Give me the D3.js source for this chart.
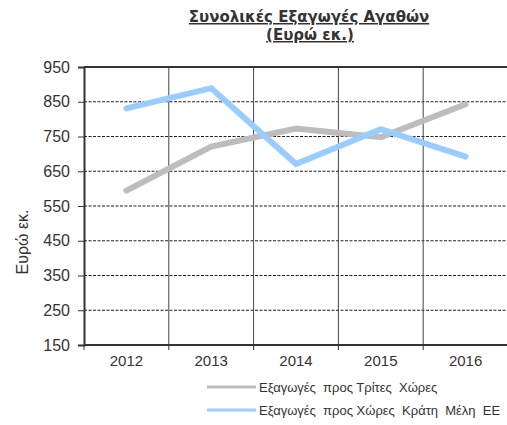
<!DOCTYPE html>
<html><head><meta charset="utf-8">
<script src="https://cdn.jsdelivr.net/npm/d3@7"></script>
<style>body{margin:0;background:#fff;} svg{display:block;}</style>
</head><body>
<script>
const years = ["2012","2013","2014","2015","2016"];
const thirdCountries = [594, 721, 773, 748, 843];
const euMembers = [831, 889, 671, 771, 692];
const yTicks = [150,250,350,450,550,650,750,850,950];
const seriesNames = ["Εξαγωγές  προς Τρίτες  Χώρες", "Εξαγωγές  προς Χώρες  Κράτη  Μέλη  ΕΕ"];
const colors = ["#BDBDBD", "#99CCFF"];

const W = 507, H = 425;
const FONT = "Liberation Sans, Arial, sans-serif";
const svg = d3.select("body").append("svg").attr("width", W).attr("height", H);
const L = 84, R = 508, T = 67, B = 345;
const x = d3.scaleBand().domain(years).range([L, R]);
const y = d3.scaleLinear().domain([150, 950]).range([B, T]);

// horizontal dashed grid
svg.append("g").selectAll("line").data(yTicks.filter(v => v > 150 && v < 950)).join("line")
  .attr("x1", L).attr("x2", R).attr("y1", d => y(d)).attr("y2", d => y(d))
  .attr("stroke", "#222").attr("stroke-width", 1).attr("stroke-dasharray", "3,1.5");
// vertical solid grid at category boundaries
svg.append("g").selectAll("line").data(years.slice(1)).join("line")
  .attr("x1", d => x(d)).attr("x2", d => x(d)).attr("y1", T).attr("y2", B)
  .attr("stroke", "#444").attr("stroke-width", 1);
// top border
svg.append("line").attr("x1", L).attr("x2", R).attr("y1", T).attr("y2", T)
  .attr("stroke", "#333").attr("stroke-width", 2);

// y axis
const yAxis = d3.axisLeft(y).tickValues(yTicks).tickSize(6).tickPadding(8);
const gy = svg.append("g").attr("transform", `translate(${L},0)`).call(yAxis);
gy.select(".domain").attr("stroke", "#333").attr("stroke-width", 2);
gy.selectAll(".tick line").attr("stroke", "#333");
gy.selectAll("text").attr("font-family", FONT).attr("font-size", 16).attr("fill", "#333");

// x axis
const gx = svg.append("g").attr("transform", `translate(0,${B})`);
gx.append("line").attr("x1", L).attr("x2", R).attr("stroke", "#333").attr("stroke-width", 2);
gx.selectAll("line.tk").data(years.concat(["end"])).join("line").attr("class","tk")
  .attr("x1", (d,i) => L + i * x.step()).attr("x2", (d,i) => L + i * x.step())
  .attr("y1", 0).attr("y2", 5).attr("stroke", "#333");
gx.selectAll("text").data(years).join("text")
  .attr("x", d => x(d) + x.bandwidth()/2).attr("y", 21)
  .attr("text-anchor", "middle").attr("font-family", FONT)
  .attr("font-size", 15).attr("fill", "#333").text(d => d);

// lines
const line = d3.line().x((d,i) => x(years[i]) + x.bandwidth()/2).y(d => y(d));
[thirdCountries, euMembers].forEach((s, k) => {
  svg.append("path").datum(s).attr("d", line).attr("fill", "none")
    .attr("stroke", colors[k]).attr("stroke-width", 6)
    .attr("stroke-linejoin", "miter").attr("stroke-linecap", "round");
});

// y title
svg.append("text").attr("transform", "translate(28,242) rotate(-90)")
  .attr("text-anchor", "middle").attr("font-family", FONT)
  .attr("font-size", 16).attr("fill", "#333").text("Ευρώ εκ.");

// title
const title = svg.append("g").attr("font-family", "DejaVu Sans, Verdana, sans-serif")
  .attr("font-weight", "bold").attr("font-size", 15).attr("fill", "#333")
  .attr("text-anchor", "middle").attr("text-decoration", "underline");
title.append("text").attr("x", 309).attr("y", 22).text("Συνολικές Εξαγωγές Αγαθών");
title.append("text").attr("x", 310).attr("y", 40).text("(Ευρώ εκ.)");

// legend
seriesNames.forEach((n, k) => {
  const ly = 387 + k * 23;
  svg.append("line").attr("x1", 207).attr("x2", 256).attr("y1", ly).attr("y2", ly)
    .attr("stroke", colors[k]).attr("stroke-width", 3);
  svg.append("text").attr("x", 259).attr("y", ly + 4.5)
    .attr("font-family", FONT).attr("font-size", 13)
    .attr("fill", "#333").style("white-space", "pre").text(n);
});
</script>
</body></html>
